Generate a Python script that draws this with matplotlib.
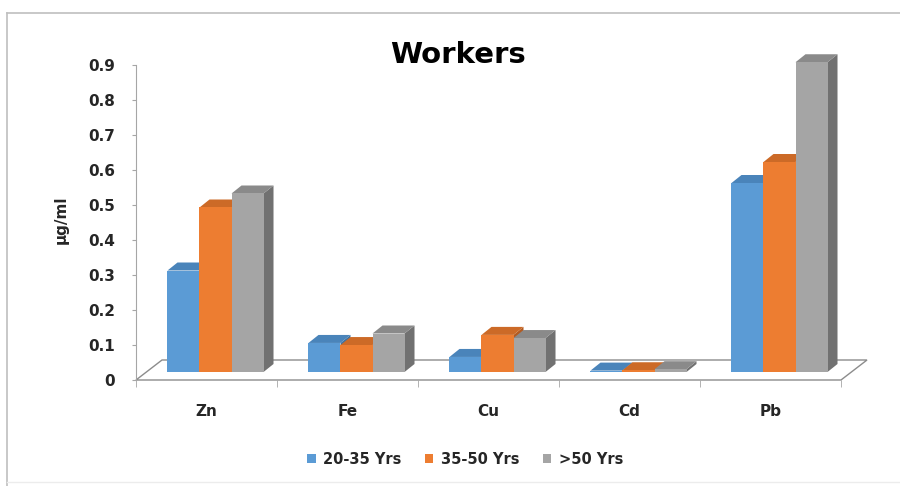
import matplotlib
matplotlib.use("Agg")
import matplotlib.pyplot as plt
from matplotlib.patches import Polygon, Patch
from matplotlib.lines import Line2D
from matplotlib.transforms import ScaledTranslation

# data
metals = ["Zn", "Fe", "Cu", "Cd", "Pb"]
groups = ["20-35 Yrs", "35-50 Yrs", ">50 Yrs"]
age_20_35 = [0.29, 0.083, 0.043, 0.004, 0.54]
age_35_50 = [0.47, 0.077, 0.106, 0.005, 0.60]
age_over_50 = [0.51, 0.11, 0.097, 0.008, 0.885]
series = [age_20_35, age_35_50, age_over_50]

front_colors = ["#5B9BD5", "#ED7D31", "#A5A5A5"]
top_colors = ["#4A84BA", "#CC6A27", "#8A8A8A"]
side_colors = ["#41729F", "#B25B22", "#717171"]

fig = plt.figure(figsize=(9, 4.86), dpi=100)
W, H = 900, 486
ax_left, ax_right, ax_bottom, ax_top = 136, 841, 380, 65
ax = fig.add_axes([ax_left / W, 1 - ax_bottom / H,
                   (ax_right - ax_left) / W, (ax_bottom - ax_top) / H])
ax.set_xlim(-0.5, 4.5)
ax.set_ylim(0, 0.9)

# pixel -> data scale factors
px_x = (ax_right - ax_left) / 5.0
px_y = (ax_bottom - ax_top) / 0.9

# floor of the 3d plot
fdx, fdy = 26 / px_x, 20 / px_y
floor = Polygon([(-0.5, 0), (4.5, 0), (4.5 + fdx, fdy), (-0.5 + fdx, fdy)],
                closed=True, facecolor="white", edgecolor="#8c8c8c", lw=1,
                clip_on=False, zorder=1)
ax.add_patch(floor)

# bars sit a bit back from the front edge
shift = ScaledTranslation(9 / 100, 8 / 100, fig.dpi_scale_trans)
tr = ax.transData + shift
bw = 0.227
ddx, ddy = 10 / px_x, 8 / px_y

z = 3
for i in range(len(metals)):
    for j, vals in enumerate(series):
        x0 = i - 1.5 * bw + j * bw
        h = vals[i]
        side = Polygon([(x0 + bw, 0), (x0 + bw + ddx, ddy), (x0 + bw + ddx, h + ddy), (x0 + bw, h)],
                       closed=True, facecolor=side_colors[j], edgecolor="none",
                       transform=tr, clip_on=False, zorder=z)
        top = Polygon([(x0, h), (x0 + bw, h), (x0 + bw + ddx, h + ddy), (x0 + ddx, h + ddy)],
                      closed=True, facecolor=top_colors[j], edgecolor="none",
                      transform=tr, clip_on=False, zorder=z)
        ax.add_patch(side)
        ax.add_patch(top)
        ax.bar(x0, h, width=bw, align="edge", color=front_colors[j],
               transform=tr, clip_on=False, zorder=z + 0.5)
        z += 1

for s in ["top", "right"]:
    ax.spines[s].set_visible(False)
ax.spines["left"].set_color("#a6a6a6")
ax.spines["bottom"].set_visible(False)

ax.set_yticks([0, 0.1, 0.2, 0.3, 0.4, 0.5, 0.6, 0.7, 0.8, 0.9])
ax.set_yticklabels(["0", "0.1", "0.2", "0.3", "0.4", "0.5", "0.6", "0.7", "0.8", "0.9"])
ax.tick_params(axis="y", length=3, color="#a6a6a6", pad=12, labelsize=11, labelcolor="#262626")
for lab in ax.get_yticklabels():
    lab.set_fontweight("bold")

ax.set_xticks(range(len(metals)))
ax.set_xticklabels(metals, fontsize=11, fontweight="bold", color="#262626")
ax.set_xticks([-0.5, 0.5, 1.5, 2.5, 3.5, 4.5], minor=True)
ax.tick_params(axis="x", which="major", length=0, pad=17)
ax.tick_params(axis="x", which="minor", length=5, color="#a6a6a6")

ax.set_ylabel("µg/ml", fontsize=11, fontweight="bold", color="#262626")
ax.yaxis.set_label_coords(-0.096, 0.508)

fig.text(458 / W, 1 - 55 / H, "Workers", ha="center", va="center",
         fontsize=21, fontweight="bold", color="#000000")

handles = [Patch(facecolor=c, edgecolor="none") for c in front_colors]
fig.legend(handles, groups, loc="center", bbox_to_anchor=(465 / W, 1 - 459 / H),
           ncol=3, frameon=False, handlelength=0.6, handleheight=0.6,
           handletextpad=0.5, columnspacing=1.6,
           prop={"size": 10.5, "weight": "bold"}, labelcolor="#262626")

# chart border: top and left lines, faint bottom
fig.add_artist(Line2D([7 / W, 1.0], [1 - 13 / H, 1 - 13 / H], transform=fig.transFigure,
                      color="#bfbfbf", lw=1.2))
fig.add_artist(Line2D([7 / W, 7 / W], [1 - 13 / H, 0.0], transform=fig.transFigure,
                      color="#bfbfbf", lw=1.2))
fig.add_artist(Line2D([7 / W, 1.0], [1 - 482 / H, 1 - 482 / H], transform=fig.transFigure,
                      color="#ececec", lw=1))

fig.savefig("out.png", dpi=100)
